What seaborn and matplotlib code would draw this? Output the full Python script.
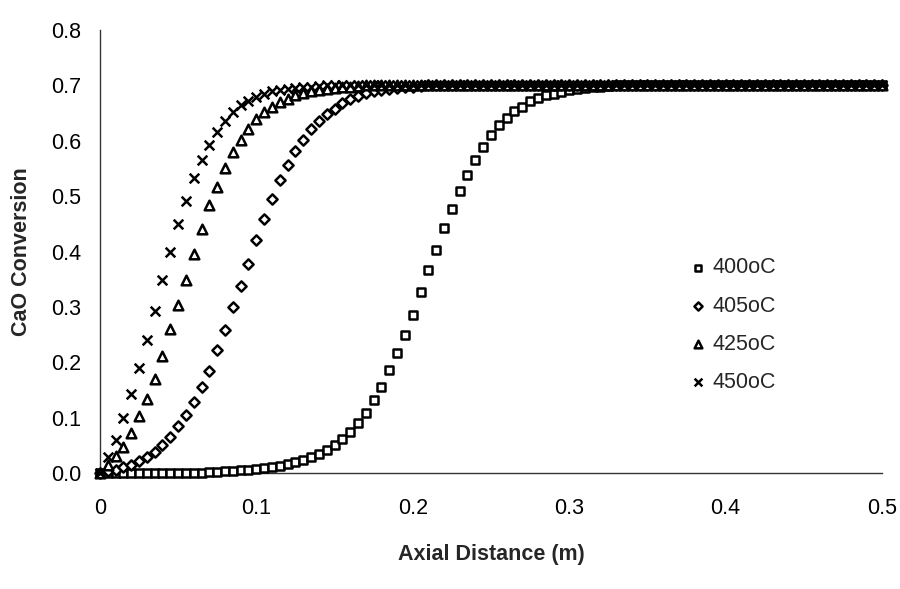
import numpy as np
import pandas as pd
import seaborn as sns
import matplotlib
matplotlib.use("Agg")
import matplotlib.pyplot as plt

# Axial grid (m) shared by every temperature series
distance = np.linspace(0.0, 0.5, 101)

conv_400 = [
    0.0, 0.0, 0.0, 0.0, 0.0, 0.0, 0.0, 0.0, 0.0, 0.0,
    0.0, 0.0, 0.0, 0.0, 0.001, 0.002, 0.003, 0.004, 0.005, 0.006,
    0.007, 0.009, 0.011, 0.013, 0.016, 0.02, 0.024, 0.029, 0.035, 0.041,
    0.05, 0.061, 0.074, 0.091, 0.108, 0.132, 0.156, 0.186, 0.216, 0.249,
    0.286, 0.326, 0.367, 0.403, 0.443, 0.476, 0.509, 0.539, 0.566, 0.589,
    0.61, 0.628, 0.641, 0.654, 0.661, 0.671, 0.678, 0.682, 0.685, 0.688,
    0.691, 0.693, 0.695, 0.697, 0.698, 0.699, 0.7, 0.7, 0.7, 0.7,
    0.7, 0.7, 0.7, 0.7, 0.7, 0.7, 0.7, 0.7, 0.7, 0.7,
    0.7, 0.7, 0.7, 0.7, 0.7, 0.7, 0.7, 0.7, 0.7, 0.7,
    0.7, 0.7, 0.7, 0.7, 0.7, 0.7, 0.7, 0.7, 0.7, 0.7,
    0.7,
]

conv_405 = [
    0.0, 0.003, 0.006, 0.01, 0.015, 0.021, 0.028, 0.038, 0.05, 0.065,
    0.084, 0.104, 0.128, 0.155, 0.185, 0.222, 0.259, 0.299, 0.338, 0.378,
    0.42, 0.459, 0.495, 0.529, 0.556, 0.582, 0.602, 0.622, 0.636, 0.648,
    0.658, 0.668, 0.675, 0.681, 0.686, 0.689, 0.692, 0.694, 0.696, 0.697,
    0.698, 0.699, 0.7, 0.7, 0.7, 0.7, 0.7, 0.7, 0.7, 0.7,
    0.7, 0.7, 0.7, 0.7, 0.7, 0.7, 0.7, 0.7, 0.7, 0.7,
    0.7, 0.7, 0.7, 0.7, 0.7, 0.7, 0.7, 0.7, 0.7, 0.7,
    0.7, 0.7, 0.7, 0.7, 0.7, 0.7, 0.7, 0.7, 0.7, 0.7,
    0.7, 0.7, 0.7, 0.7, 0.7, 0.7, 0.7, 0.7, 0.7, 0.7,
    0.7, 0.7, 0.7, 0.7, 0.7, 0.7, 0.7, 0.7, 0.7, 0.7,
    0.7,
]

conv_425 = [
    0.0, 0.015, 0.03, 0.047, 0.072, 0.103, 0.133, 0.17, 0.211, 0.26,
    0.303, 0.349, 0.395, 0.44, 0.484, 0.517, 0.551, 0.579, 0.601, 0.622,
    0.64, 0.652, 0.661, 0.67, 0.676, 0.682, 0.686, 0.689, 0.692, 0.694,
    0.696, 0.697, 0.698, 0.699, 0.7, 0.7, 0.7, 0.7, 0.7, 0.7,
    0.7, 0.7, 0.7, 0.7, 0.7, 0.7, 0.7, 0.7, 0.7, 0.7,
    0.7, 0.7, 0.7, 0.7, 0.7, 0.7, 0.7, 0.7, 0.7, 0.7,
    0.7, 0.7, 0.7, 0.7, 0.7, 0.7, 0.7, 0.7, 0.7, 0.7,
    0.7, 0.7, 0.7, 0.7, 0.7, 0.7, 0.7, 0.7, 0.7, 0.7,
    0.7, 0.7, 0.7, 0.7, 0.7, 0.7, 0.7, 0.7, 0.7, 0.7,
    0.7, 0.7, 0.7, 0.7, 0.7, 0.7, 0.7, 0.7, 0.7, 0.7,
    0.7,
]

conv_450 = [
    0.0, 0.028, 0.06, 0.099, 0.142, 0.19, 0.24, 0.292, 0.349, 0.40,
    0.45, 0.492, 0.532, 0.565, 0.593, 0.615, 0.636, 0.652, 0.665, 0.672,
    0.679, 0.685, 0.689, 0.692, 0.694, 0.696, 0.697, 0.698, 0.699, 0.7,
    0.7, 0.7, 0.7, 0.7, 0.7, 0.7, 0.7, 0.7, 0.7, 0.7,
    0.7, 0.7, 0.7, 0.7, 0.7, 0.7, 0.7, 0.7, 0.7, 0.7,
    0.7, 0.7, 0.7, 0.7, 0.7, 0.7, 0.7, 0.7, 0.7, 0.7,
    0.7, 0.7, 0.7, 0.7, 0.7, 0.7, 0.7, 0.7, 0.7, 0.7,
    0.7, 0.7, 0.7, 0.7, 0.7, 0.7, 0.7, 0.7, 0.7, 0.7,
    0.7, 0.7, 0.7, 0.7, 0.7, 0.7, 0.7, 0.7, 0.7, 0.7,
    0.7, 0.7, 0.7, 0.7, 0.7, 0.7, 0.7, 0.7, 0.7, 0.7,
    0.7,
]

series_labels = ["400oC", "405oC", "425oC", "450oC"]
x_ticks = [0, 0.1, 0.2, 0.3, 0.4, 0.5]
x_tick_labels = ["0", "0.1", "0.2", "0.3", "0.4", "0.5"]
y_ticks = [0.0, 0.1, 0.2, 0.3, 0.4, 0.5, 0.6, 0.7, 0.8]

sns.set_theme(style="white")
plt.rcParams["font.family"] = ["Liberation Sans", "DejaVu Sans"]

fig = plt.figure(figsize=(9, 5.89), dpi=100)
ax = fig.add_axes([0.111, 0.197, 0.869, 0.752])

markers = {
    "400oC": dict(marker="s", s=32),
    "405oC": dict(marker="D", s=27),
    "425oC": dict(marker="^", s=48),
    "450oC": dict(marker="x", s=48),
}

for label, values in zip(series_labels, [conv_400, conv_405, conv_425, conv_450]):
    df = pd.DataFrame({"Axial Distance (m)": distance, "CaO Conversion": values})
    style = markers[label]
    if style["marker"] == "x":
        sns.scatterplot(data=df, x="Axial Distance (m)", y="CaO Conversion",
                        marker="x", s=style["s"], color="black",
                        linewidth=1.8, ax=ax, label=label, clip_on=False,
                        zorder=3)
    else:
        sns.scatterplot(data=df, x="Axial Distance (m)", y="CaO Conversion",
                        marker=style["marker"], s=style["s"], color="black",
                        facecolor="white", edgecolor="black", linewidth=1.8,
                        ax=ax, label=label, clip_on=False, zorder=3)

ax.set_xlim(0, 0.5)
ax.set_ylim(0, 0.8)
ax.set_xticks(x_ticks)
ax.set_xticklabels(x_tick_labels)
ax.set_yticks(y_ticks)
ax.set_yticklabels([f"{v:.1f}" for v in y_ticks])

for side in ["top", "right"]:
    ax.spines[side].set_visible(False)
for side in ["left", "bottom"]:
    ax.spines[side].set_color("#333333")
    ax.spines[side].set_linewidth(1.0)

ax.tick_params(axis="both", direction="out", length=4, width=1.0,
               color="#333333", labelsize=15.5, labelcolor="black")
ax.tick_params(axis="x", pad=14)
ax.tick_params(axis="y", pad=9.5)

ax.set_xlabel("Axial Distance (m)", fontsize=15.5, fontweight="bold")
ax.set_ylabel("CaO Conversion", fontsize=15.5, fontweight="bold")
ax.xaxis.set_label_coords(0.5, -0.16)
ax.yaxis.set_label_coords(-0.087, 0.5)

handles, labels = ax.get_legend_handles_labels()
ax.legend(handles, labels, loc="center left", bbox_to_anchor=(689 / 900, 0.448),
          bbox_transform=fig.transFigure, frameon=False, fontsize=15.5,
          markerscale=0.8, handlelength=0.8, handletextpad=0.3,
          labelspacing=0.8, borderpad=0, borderaxespad=0)

fig.savefig("out.png", dpi=100)
